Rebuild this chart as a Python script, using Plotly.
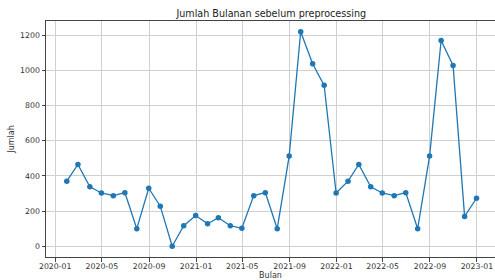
import plotly.graph_objects as go
import pandas as pd

months = pd.date_range("2020-01-31", "2022-12-31", freq="ME").strftime("%Y-%m-%d").tolist()
jumlah = [370, 465, 338, 303, 288, 305, 100, 330, 228, 0, 117, 175,
          128, 162, 117, 102, 288, 305, 100, 513, 1220, 1038, 915, 303,
          370, 465, 338, 303, 288, 305, 100, 513, 1170, 1028, 170, 273]
x_ticks = ["2020-01-01", "2020-05-01", "2020-09-01", "2021-01-01", "2021-05-01", "2021-09-01",
           "2022-01-01", "2022-05-01", "2022-09-01", "2023-01-01"]
x_tick_labels = ["2020-01", "2020-05", "2020-09", "2021-01", "2021-05", "2021-09",
                 "2022-01", "2022-05", "2022-09", "2023-01"]
y_ticks = [0, 200, 400, 600, 800, 1000, 1200]

fig = go.Figure(go.Scatter(
    x=months, y=jumlah, mode="lines+markers",
    line=dict(color="#1f77b4", width=1.3),
    marker=dict(color="#1f77b4", size=5.5),
))

font = "DejaVu Sans"
fig.update_layout(
    width=495, height=280,
    margin=dict(l=46, r=0, t=21, b=23, autoexpand=False),
    paper_bgcolor="white", plot_bgcolor="white",
    showlegend=False,
    title=dict(text="Jumlah Bulanan sebelum preprocessing", x=0.548, xref="container",
               xanchor="center", y=0.95, yref="container", yanchor="middle",
               automargin=False,
               font=dict(family=font, size=9.6, color="#222")),
    font=dict(family=font, size=8, color="#333"),
)
fig.update_xaxes(
    range=["2019-12-08", "2023-02-17"],
    tickvals=x_ticks, ticktext=x_tick_labels,
    showgrid=True, gridcolor="#d0d0d0", gridwidth=0.8,
    showline=True, linecolor="#444", linewidth=1, mirror=True,
    ticks="outside", ticklen=3.5, tickcolor="#444",
    zeroline=False, automargin=False, ticklabelstandoff=-2,
    title=dict(text="Bulan", font=dict(family=font, size=8, color="#333"), standoff=8),
    tickfont=dict(family=font, size=7.8, color="#333"),
)
fig.update_yaxes(
    range=[-61, 1281],
    tickvals=y_ticks,
    showgrid=True, gridcolor="#d0d0d0", gridwidth=0.8,
    showline=True, linecolor="#444", linewidth=1, mirror=False,
    ticks="outside", ticklen=3.5, tickcolor="#444",
    zeroline=False, automargin=False,
    title=dict(text="Jumlah", font=dict(family=font, size=8, color="#333"), standoff=4),
    tickfont=dict(family=font, size=7.8, color="#333"),
)
fig.write_html(
    "out.html",
    config={"displayModeBar": False},
    post_script="document.body.style.margin='0';document.body.style.overflow='hidden';",
)
